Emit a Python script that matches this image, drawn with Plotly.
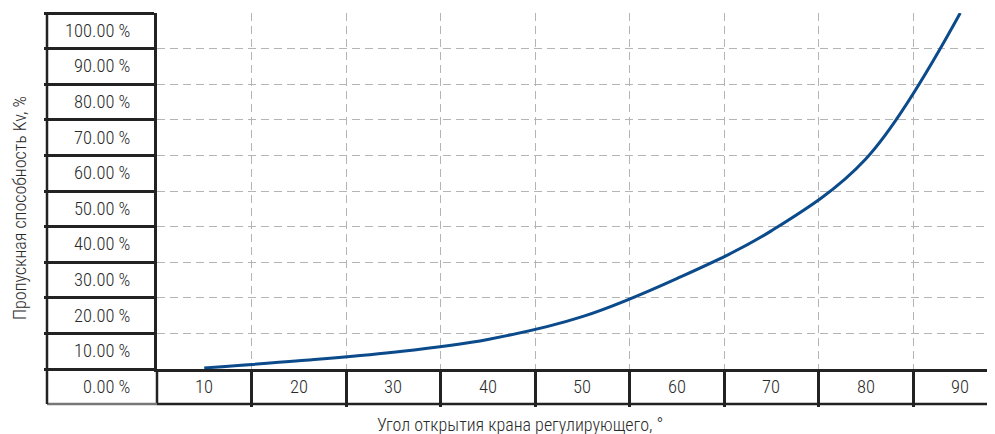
import plotly.graph_objects as go

# ---- data ----
angle = [10, 20, 30, 40, 50, 60, 70, 80, 90]
kv = [0.3, 2.3, 4.7, 8.3, 14.7, 25.4, 38.8, 59.0, 100.0]
x_tick_labels = ["10", "20", "30", "40", "50", "60", "70", "80", "90"]
x_tick_values = [10, 20, 30, 40, 50, 60, 70, 80, 90]
y_tick_values = [100, 90, 80, 70, 60, 50, 40, 30, 20, 10, 0]
y_tick_labels = ["100.00 %", "90.00 %", "80.00 %", "70.00 %", "60.00 %", "50.00 %",
                 "40.00 %", "30.00 %", "20.00 %", "10.00 %", "0.00 %"]
x_title = "Угол открытия крана регулирующего, °"
y_title = "Пропускная способность Kv, %"

# ---- layout geometry (page has an 8px body margin) ----
W, H = 987, 426
L, R, T, B = 149, 0, 5, 65
pw, ph = W - L - R, H - T - B
cell_w = 94.5
x0 = 5
x1 = x0 + pw / cell_w * 10
y0, y1 = 0, 100
col_w = 110  # left label column width
row_h = 35
FONT = "Roboto Condensed, Liberation Sans Narrow, sans-serif"
TXT = "#2a2a2a"
BLK = "#222222"
GRID = "#b4b4b4"

fig = go.Figure()
fig.add_trace(go.Scatter(
    x=angle, y=kv, mode="lines",
    line=dict(color="#0b4a8b", width=3, shape="spline", smoothing=1),
    hoverinfo="x+y", showlegend=False,
))

tick_font = dict(family=FONT, size=18.5, color=TXT, weight=300)
annotations = []
for v, t in zip(x_tick_values, x_tick_labels):
    annotations.append(dict(x=v, xref="x", y=-row_h / 2 / ph, yref="paper",
                            text=t, showarrow=False, xanchor="center", yanchor="middle",
                            font=tick_font))
for v, t in zip(y_tick_values, y_tick_labels):
    annotations.append(dict(x=0, xref="paper", xshift=-25, y=(v - 5 - y0) / (y1 - y0), yref="paper",
                            text=t, showarrow=False, xanchor="right", yanchor="middle",
                            font=tick_font))
annotations.append(dict(x=(512 - L) / pw, xref="paper", y=(T + ph - 416) / ph, yref="paper",
                        text=x_title, showarrow=False, xanchor="center", yanchor="middle",
                        font=dict(family=FONT, size=18, color=TXT, weight=300)))
annotations.append(dict(x=(12 - L) / pw, xref="paper", y=(T + ph - 200) / ph, yref="paper",
                        text=y_title, showarrow=False, textangle=-90,
                        xanchor="center", yanchor="middle",
                        font=dict(family=FONT, size=18, color=TXT, weight=300)))

bottom = -row_h / ph
left = -col_w / pw
shapes = [
    dict(type="line", xref="paper", yref="paper", x0=0, x1=0, y0=bottom, y1=0,
         line=dict(color=BLK, width=2.5)),
    dict(type="line", xref="paper", yref="paper", x0=left, x1=0, y0=bottom, y1=bottom,
         line=dict(color="#777777", width=2.5)),
    dict(type="line", xref="paper", yref="paper", x0=0, x1=1.02, y0=bottom, y1=bottom,
         line=dict(color=BLK, width=2.5)),
    dict(type="line", xref="paper", yref="paper", x0=left, x1=left, y0=bottom, y1=1,
         line=dict(color=BLK, width=2.5)),
]

fig.update_layout(
    width=W, height=H,
    margin=dict(l=L, r=R, t=T, b=B, pad=0),
    paper_bgcolor="white", plot_bgcolor="white",
    showlegend=False,
    annotations=annotations,
    shapes=shapes,
    xaxis=dict(range=[x0, x1], tickvals=[15, 25, 35, 45, 55, 65, 75, 85],
               showticklabels=False, ticks="outside", ticklen=row_h, tickwidth=2.5,
               tickcolor=BLK, showgrid=True, gridcolor=GRID, griddash="8px,5px",
               gridwidth=1.3, showline=True, linecolor=BLK, linewidth=2.5,
               zeroline=False, fixedrange=True),
    yaxis=dict(range=[y0, y1], tickvals=y_tick_values,
               showticklabels=False, ticks="outside", ticklen=col_w, tickwidth=2.5,
               tickcolor=BLK, showgrid=True, gridcolor=GRID, griddash="8px,5px",
               gridwidth=1.3, showline=True, linecolor=BLK, linewidth=2.5,
               zeroline=False, fixedrange=True),
)

fig.write_html("out.html")
